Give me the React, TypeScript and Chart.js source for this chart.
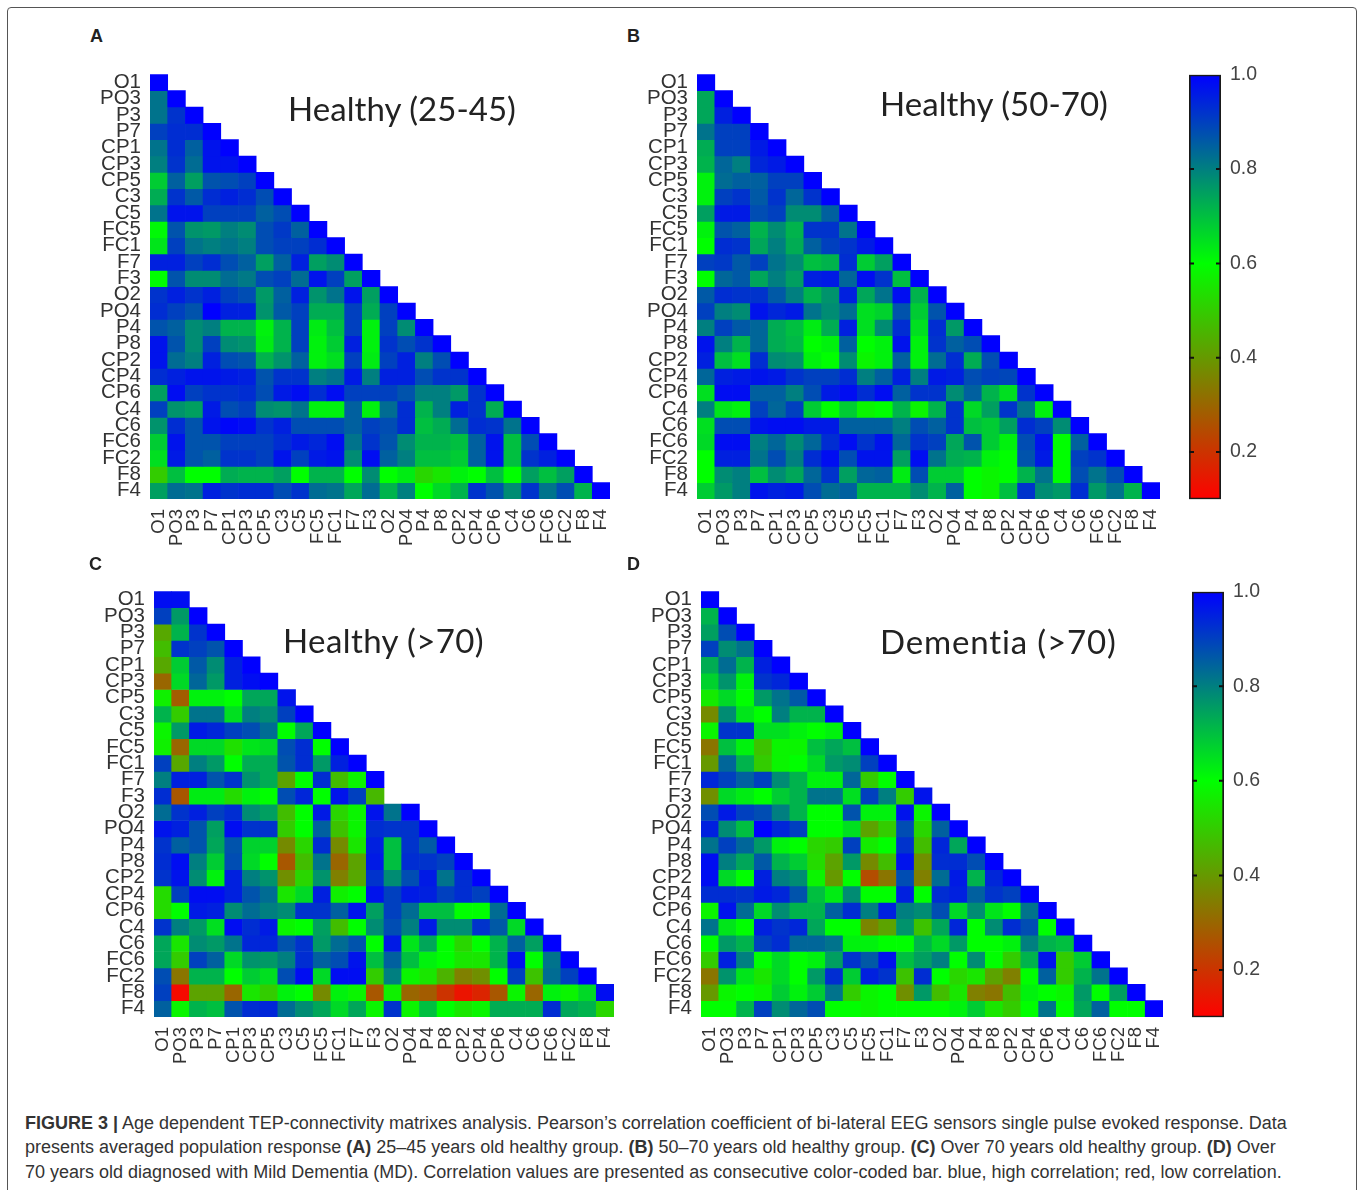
import React, { useEffect, useRef } from "react";
import { Chart, registerables } from "chart.js";

Chart.register(...registerables);

const channels = ["O1","PO3","P3","P7","CP1","CP3","CP5","C3","C5","FC5","FC1","F7","F3","O2","PO4","P4","P8","CP2","CP4","CP6","C4","C6","FC6","FC2","F8","F4"];

const matrixA = [
[1],
[.82,1],
[.82,.92,1],
[.9,.93,.93,1],
[.82,.93,.85,.97,1],
[.8,.92,.83,.97,.97,1],
[.68,.85,.75,.87,.88,.9,1],
[.73,.92,.86,.93,.95,.93,.88,1],
[.82,.97,.97,.9,.9,.9,.85,.88,1],
[.61,.87,.77,.76,.8,.78,.88,.91,.85,1],
[.64,.9,.82,.8,.82,.8,.88,.9,.9,.93,1],
[.95,.95,.9,.93,.88,.85,.75,.85,.95,.75,.78,1],
[.6,.87,.78,.78,.83,.81,.88,.9,.83,.97,.9,.75,1],
[.92,.95,.92,.95,.9,.88,.76,.85,.95,.77,.82,.97,.75,1],
[.93,.9,.87,1,.95,.95,.77,.86,.9,.73,.73,.9,.73,.9,1],
[.87,.85,.78,.8,.72,.72,.62,.72,.9,.63,.7,.9,.62,.9,.78,1],
[.97,.87,.78,.9,.78,.77,.63,.72,.9,.62,.68,.95,.62,.92,.88,.92,1],
[.97,.83,.8,.95,.88,.87,.72,.77,.85,.62,.65,.9,.63,.9,.95,.8,.88,1],
[.93,.95,.97,.97,.96,.95,.87,.92,.92,.8,.82,.96,.8,.95,.95,.88,.92,.92,1],
[.75,.98,.9,.92,.92,.93,.88,.96,.98,.93,.98,.9,.9,.9,.87,.8,.8,.76,.92,1],
[.9,.77,.75,.96,.88,.9,.78,.77,.82,.62,.62,.85,.62,.83,.93,.72,.8,.95,.92,.73,1],
[.77,.93,.87,.97,.99,.98,.92,.95,.88,.88,.88,.85,.9,.88,.93,.7,.73,.83,.93,.92,.82,1],
[.68,.97,.87,.87,.9,.9,.9,.93,.96,.94,.98,.82,.92,.87,.78,.72,.72,.7,.85,.97,.7,.88,1],
[.65,.96,.87,.85,.92,.92,.9,.97,.9,.96,.97,.78,.98,.85,.8,.7,.7,.68,.85,.97,.7,.92,.95,1],
[.5,.7,.6,.6,.73,.72,.72,.75,.6,.72,.72,.6,.78,.6,.63,.52,.55,.62,.6,.7,.6,.75,.7,.75,1],
[.75,.83,.82,.95,.92,.93,.93,.88,.92,.83,.82,.74,.83,.72,.8,.6,.66,.72,.92,.87,.78,.92,.82,.88,.72,1],
];

const matrixB = [
[1],
[.74,1],
[.74,.95,1],
[.82,.9,.9,1],
[.73,.9,.9,.96,1],
[.72,.84,.8,.94,.96,1],
[.62,.83,.85,.85,.9,.9,1],
[.62,.9,.92,.86,.92,.84,.92,1],
[.75,.96,.96,.88,.9,.78,.78,.85,1],
[.62,.87,.85,.72,.78,.72,.92,.92,.82,1],
[.6,.93,.92,.74,.8,.73,.85,.9,.92,.96,1],
[.9,.91,.86,.9,.82,.78,.7,.72,.93,.68,.75,1],
[.6,.84,.86,.74,.8,.75,.95,.96,.84,.98,.92,.7,1],
[.86,.93,.92,.92,.86,.8,.72,.77,.95,.74,.82,.98,.72,1],
[.9,.8,.78,.97,.94,.96,.82,.78,.83,.65,.67,.87,.68,.87,1],
[.8,.9,.86,.84,.73,.7,.63,.73,.95,.65,.78,.93,.65,.93,.76,1],
[.97,.8,.72,.84,.73,.71,.6,.62,.85,.6,.62,.97,.62,.92,.85,.88,1],
[.95,.7,.65,.93,.78,.77,.62,.6,.78,.58,.62,.85,.62,.83,.93,.73,.88,1],
[.84,.95,.96,.97,.96,.92,.9,.9,.93,.8,.85,.95,.8,.96,.95,.88,.9,.89,1],
[.65,.98,.98,.85,.85,.8,.88,.96,.98,.93,.98,.85,.92,.92,.78,.85,.72,.65,.92,1],
[.8,.64,.62,.9,.84,.9,.68,.6,.68,.58,.6,.72,.58,.72,.92,.66,.75,.92,.82,.62,1],
[.65,.88,.88,.97,.98,.98,.96,.96,.85,.85,.85,.8,.88,.85,.92,.7,.68,.75,.93,.9,.78,1],
[.66,.98,.98,.8,.84,.78,.84,.93,.98,.92,.97,.84,.92,.9,.74,.87,.68,.62,.88,.97,.6,.85,1],
[.6,.95,.95,.82,.88,.8,.93,.98,.88,.97,.97,.75,.98,.82,.73,.72,.62,.6,.87,.96,.6,.9,.92,1],
[.6,.78,.8,.7,.78,.74,.84,.92,.75,.84,.85,.63,.88,.68,.68,.6,.58,.6,.72,.82,.6,.88,.82,.88,1],
[.68,.76,.8,.97,.95,.96,.88,.83,.85,.72,.72,.72,.78,.72,.85,.6,.58,.7,.92,.78,.76,.93,.76,.82,.72,1],
];

const matrixC = [
[.98,.98],
[.9,.76,1],
[.43,.72,.92,1],
[.47,.92,.9,.87,1],
[.43,.68,.86,.78,.95,1],
[.3,.66,.84,.76,.95,.98,1],
[.57,.28,.62,.62,.6,.74,.74,.97],
[.72,.5,.82,.82,.65,.8,.78,.9,1],
[.58,.76,.96,.94,.9,.88,.83,.6,.74,1],
[.57,.3,.66,.66,.54,.64,.66,.88,.93,.6,1],
[.9,.43,.8,.76,.6,.73,.73,.87,.93,.76,.95,1],
[.8,.95,.95,.87,.92,.77,.73,.42,.6,.93,.47,.58,1],
[.93,.27,.63,.63,.53,.62,.6,.88,.94,.6,.97,.9,.46],
[.83,.92,.95,.9,.93,.78,.75,.47,.6,.96,.52,.58,.97,.82,1],
[.97,.95,.87,.75,.98,.92,.92,.5,.6,.85,.48,.58,.93,.92,.92,1],
[.92,.85,.87,.74,.87,.67,.67,.37,.52,.93,.37,.55,.95,.7,.92,.86,1],
[.93,.98,.8,.68,.88,.66,.6,.27,.47,.82,.3,.42,.96,.7,.93,.92,.9,1],
[.92,.97,.78,.62,.95,.8,.77,.38,.52,.77,.35,.43,.92,.78,.88,.96,.82,.93,1],
[.53,.9,.98,.98,.95,.87,.83,.55,.66,.95,.57,.6,.97,.9,.96,.95,.9,.93,.9,1],
[.53,.6,.96,.95,.78,.83,.8,.78,.92,.92,.85,.97,.75,.9,.83,.7,.7,.6,.6,.83,1],
[.92,.8,.76,.65,.98,.93,.96,.58,.6,.75,.47,.6,.78,.88,.8,.96,.78,.78,.92,.86,.66,1],
[.74,.55,.78,.76,.82,.94,.94,.87,.92,.76,.83,.87,.6,.96,.64,.74,.6,.52,.6,.72,.85,.75,1],
[.74,.5,.9,.85,.66,.77,.76,.8,.93,.85,.88,.97,.7,.85,.7,.62,.6,.55,.55,.72,.97,.6,.82,1],
[.88,.33,.72,.72,.6,.68,.65,.88,.98,.66,.98,.98,.5,.8,.58,.55,.45,.35,.38,.6,.9,.48,.83,.9,1],
[.9,.12,.42,.42,.3,.55,.5,.62,.6,.37,.62,.58,.27,.57,.3,.28,.2,.14,.17,.27,.58,.3,.62,.58,.66,.98],
[.85,.58,.72,.7,.87,.93,.94,.83,.78,.74,.66,.74,.58,.92,.58,.7,.6,.55,.58,.73,.73,.73,.93,.74,.72,.52],
];

const matrixD = [
[1],
[.72,1],
[.75,.88,1],
[.9,.78,.82,1],
[.73,.83,.72,.95,1],
[.67,.77,.62,.92,.94,1],
[.56,.66,.6,.76,.82,.86,1],
[.37,.78,.64,.6,.8,.72,.72,1],
[.58,.92,.92,.65,.65,.62,.6,.62,1],
[.33,.7,.62,.48,.58,.58,.7,.74,.7,1],
[.4,.84,.72,.5,.58,.6,.66,.76,.78,.9,1],
[.94,.9,.85,.9,.78,.72,.62,.62,.84,.5,.6,1],
[.38,.66,.63,.6,.68,.72,.82,.82,.65,.9,.8,.5,.97],
[.88,.96,.9,.88,.8,.72,.6,.6,.87,.62,.62,.97,.58,1],
[.95,.78,.7,1,.94,.9,.6,.6,.65,.42,.5,.88,.52,.85,1],
[.82,.9,.84,.76,.62,.6,.52,.5,.9,.56,.6,.92,.47,.94,.74,1],
[.98,.8,.74,.86,.72,.68,.53,.42,.76,.37,.47,.97,.38,.93,.93,.88,1],
[.98,.66,.6,.95,.8,.78,.58,.4,.6,.25,.33,.88,.35,.83,.96,.72,.94,1],
[.93,.93,.92,.96,.94,.87,.7,.63,.78,.6,.6,.95,.6,.93,.95,.85,.92,.9,1],
[.58,.97,.83,.66,.78,.72,.72,.85,.93,.8,.95,.8,.78,.88,.66,.78,.64,.6,.82,1],
[.82,.64,.6,.95,.92,.94,.74,.6,.6,.36,.42,.77,.48,.74,.94,.6,.78,.93,.88,.6,1],
[.6,.76,.72,.9,.93,.84,.84,.82,.62,.62,.6,.6,.72,.66,.76,.6,.6,.62,.8,.72,.7,1],
[.5,.95,.8,.6,.66,.6,.62,.75,.92,.86,.97,.7,.75,.8,.6,.78,.6,.5,.72,.97,.5,.68,1],
[.33,.77,.64,.55,.66,.6,.76,.93,.68,.95,.92,.48,.93,.6,.52,.55,.42,.35,.6,.85,.5,.72,.82,1],
[.4,.58,.6,.58,.68,.62,.68,.82,.5,.58,.6,.38,.76,.47,.55,.35,.33,.47,.62,.6,.58,.76,.6,.75,1],
[.6,.6,.72,.9,.78,.84,.88,.6,.6,.58,.6,.6,.6,.6,.62,.68,.55,.5,.6,.82,.6,.74,.85,.6,.6,1],
];

const barRange = [0.1, 1.0];
const barTicks = [0.2, 0.4, 0.6, 0.8, 1.0];
const MID = 0.6;

function valueColor(v: number): string {
  if (v >= MID) {
    const t = (1 - v) / (1 - MID);
    return `rgb(0,${Math.round(255 * t)},${Math.round(255 * (1 - t))})`;
  }
  const t = (MID - v) / (MID - barRange[0]);
  return `rgb(${Math.round(255 * t)},${Math.round(255 * (1 - t))},0)`;
}

const TEXT = "#333333";
const AXIS_W = 90;
const AXIS_H = 75;
const PAD = 20;
const PAD_RIGHT = 34;

function matrixConfig(matrix: number[][]): any {
  return {
    type: "bar",
    data: {
      labels: channels,
      datasets: matrix.map((row, r) => ({
        label: channels[r],
        data: row.map((v, c) => ({ x: channels[c], y: [r, r + 1], v })),
        backgroundColor: (ctx: any) => valueColor(ctx.raw ? ctx.raw.v : 1),
        borderWidth: 0,
        barPercentage: 1,
        categoryPercentage: 1,
      })),
    },
    options: {
      responsive: false,
      animation: false,
      events: [],
      layout: { padding: { top: PAD, right: PAD_RIGHT, left: 0, bottom: 0 } },
      plugins: { legend: { display: false }, tooltip: { enabled: false }, title: { display: false } },
      scales: {
        x: {
          type: "category",
          stacked: true,
          grid: { display: false, drawTicks: false },
          border: { display: false },
          ticks: { autoSkip: false, minRotation: 90, maxRotation: 90, padding: 10, color: TEXT, font: { family: "'Liberation Sans'", size: 18.5 } },
          afterFit: (s: any) => { s.height = AXIS_H; },
        },
        y: {
          type: "linear",
          reverse: true,
          min: 0,
          max: channels.length,
          grid: { display: false, drawTicks: false },
          border: { display: false },
          afterBuildTicks: (s: any) => { s.ticks = channels.map((_, i) => ({ value: i + 0.5 })); },
          ticks: {
            autoSkip: false,
            padding: 9,
            color: TEXT,
            font: { family: "'Liberation Sans'", size: 20.5 },
            callback: (val: number) => channels[Math.floor(val)],
          },
          afterFit: (s: any) => { s.width = AXIS_W; },
        },
      },
    },
  };
}

const innerTicks = {
  id: "innerTicks",
  afterDatasetsDraw(chart: any) {
    const { ctx, chartArea, scales } = chart;
    ctx.save();
    ctx.strokeStyle = "#111";
    ctx.lineWidth = 2;
    for (const t of barTicks) {
      if (t >= barRange[1]) continue;
      const y = scales.y.getPixelForValue(t);
      ctx.beginPath();
      ctx.moveTo(chartArea.left, y);
      ctx.lineTo(chartArea.left + 5, y);
      ctx.moveTo(chartArea.right - 5, y);
      ctx.lineTo(chartArea.right, y);
      ctx.stroke();
    }
    ctx.restore();
  },
};

function colorbarConfig(): any {
  return {
    type: "bar",
    data: {
      labels: ["r"],
      datasets: [{
        data: [barRange],
        borderColor: "#1a1a1a",
        borderWidth: 2,
        borderSkipped: false,
        barPercentage: 1,
        categoryPercentage: 1,
        backgroundColor: (ctx: any) => {
          const { chart } = ctx;
          const y = chart.scales && chart.scales.y;
          const bottom = y ? y.getPixelForValue(barRange[0]) : NaN;
          const top = y ? y.getPixelForValue(barRange[1]) : NaN;
          if (!chart.chartArea || !Number.isFinite(bottom) || !Number.isFinite(top)) return "#000";
          const g = chart.ctx.createLinearGradient(0, bottom, 0, top);
          const span = barRange[1] - barRange[0];
          [barRange[0], MID, barRange[1]].forEach((v) => g.addColorStop((v - barRange[0]) / span, valueColor(v)));
          return g;
        },
      }],
    },
    plugins: [innerTicks],
    options: {
      responsive: false,
      animation: false,
      events: [],
      layout: { padding: { top: PAD, bottom: PAD, left: 10, right: 0 } },
      plugins: { legend: { display: false }, tooltip: { enabled: false } },
      scales: {
        x: { display: false },
        y: {
          position: "right",
          min: barRange[0],
          max: barRange[1],
          grid: { display: false, drawTicks: false },
          border: { display: false },
          afterBuildTicks: (s: any) => { s.ticks = barTicks.map((value) => ({ value })); },
          ticks: { padding: 9, color: "#444", font: { family: "'Liberation Sans'", size: 19.5 }, callback: (v: number) => v.toFixed(1) },
          afterFit: (s: any) => { s.width = 48; },
        },
      },
    },
  };
}

const panels = [
  { matrix: matrixA, left: 150, top: 73, w: 460, h: 426 },
  { matrix: matrixB, left: 697, top: 73, w: 463, h: 426 },
  { matrix: matrixC, left: 154, top: 590, w: 460, h: 427 },
  { matrix: matrixD, left: 701, top: 590, w: 462, h: 427 },
];
const colorbars = [
  { left: 1189, top: 74, w: 32, h: 426 },
  { left: 1192, top: 591, w: 32, h: 427 },
];
const titles = [
  { text: "Healthy (25-45)", left: 288, top: 88, spacing: 0.05 },
  { text: "Healthy (50-70)", left: 880, top: 83, spacing: 0.05 },
  { text: "Healthy (>70)", left: 283, top: 620, spacing: 0.4 },
  { text: "Dementia (>70)", left: 880, top: 621, spacing: 0.85 },
];
const letters = [
  { text: "A", left: 90, top: 26 },
  { text: "B", left: 627, top: 26 },
  { text: "C", left: 89, top: 554 },
  { text: "D", left: 627, top: 554 },
];

const abs = (left: number, top: number): React.CSSProperties => ({ position: "absolute", left, top, whiteSpace: "nowrap" });
const B = ({ children }: any) => <b style={{ fontWeight: 700 }}>{children}</b>;

export default function App() {
  const refs = useRef<(HTMLCanvasElement | null)[]>([]);
  const barRefs = useRef<(HTMLCanvasElement | null)[]>([]);
  useEffect(() => {
    const charts: Chart[] = [];
    panels.forEach((p, i) => {
      const c = refs.current[i];
      if (c) charts.push(new Chart(c, matrixConfig(p.matrix)));
    });
    colorbars.forEach((_, i) => {
      const c = barRefs.current[i];
      if (c) charts.push(new Chart(c, colorbarConfig()));
    });
    return () => charts.forEach((c) => c.destroy());
  }, []);
  const capStyle: React.CSSProperties = { fontFamily: "'Liberation Sans'", fontSize: 18, color: "#333", lineHeight: "20px" };
  return (
    <div style={{ position: "absolute", left: 0, top: 0, width: 1358, height: 1190, overflow: "hidden", background: "#fff" }}>
      <div style={{ position: "absolute", left: 7, top: 7, width: 1348, height: 1200, border: "1px solid #555", borderRadius: 4 }} />
      {panels.map((p, i) => (
        <canvas
          key={i}
          ref={(el) => { refs.current[i] = el; }}
          width={AXIS_W + p.w + PAD_RIGHT}
          height={PAD + p.h + AXIS_H}
          style={{ position: "absolute", left: p.left - AXIS_W, top: p.top - PAD, filter: "blur(0.7px)" }}
        />
      ))}
      {colorbars.map((b, i) => (
        <canvas
          key={i}
          ref={(el) => { barRefs.current[i] = el; }}
          width={10 + b.w + 48}
          height={b.h + 2 * PAD}
          style={{ position: "absolute", left: b.left - 10, top: b.top - PAD, filter: "blur(0.5px)" }}
        />
      ))}
      {titles.map((t) => (
        <div key={t.text} style={{ ...abs(t.left, t.top), fontFamily: "Lato", fontSize: 33, letterSpacing: t.spacing, color: "#222", lineHeight: "40px" }}>{t.text}</div>
      ))}
      {letters.map((t) => (
        <div key={t.text} style={{ ...abs(t.left, t.top), fontFamily: "'Liberation Sans'", fontWeight: 700, fontSize: 18, color: "#222", lineHeight: "20px" }}>{t.text}</div>
      ))}
      <div style={{ ...abs(25, 1113), ...capStyle }}><B>FIGURE 3 |</B> Age dependent TEP-connectivity matrixes analysis. Pearson’s correlation coefficient of bi-lateral EEG sensors single pulse evoked response. Data</div>
      <div style={{ ...abs(25, 1137), ...capStyle }}>presents averaged population response <B>(A)</B> 25–45 years old healthy group. <B>(B)</B> 50–70 years old healthy group. <B>(C)</B> Over 70 years old healthy group. <B>(D)</B> Over</div>
      <div style={{ ...abs(25, 1162), ...capStyle }}>70 years old diagnosed with Mild Dementia (MD). Correlation values are presented as consecutive color-coded bar. blue, high correlation; red, low correlation.</div>
    </div>
  );
}
